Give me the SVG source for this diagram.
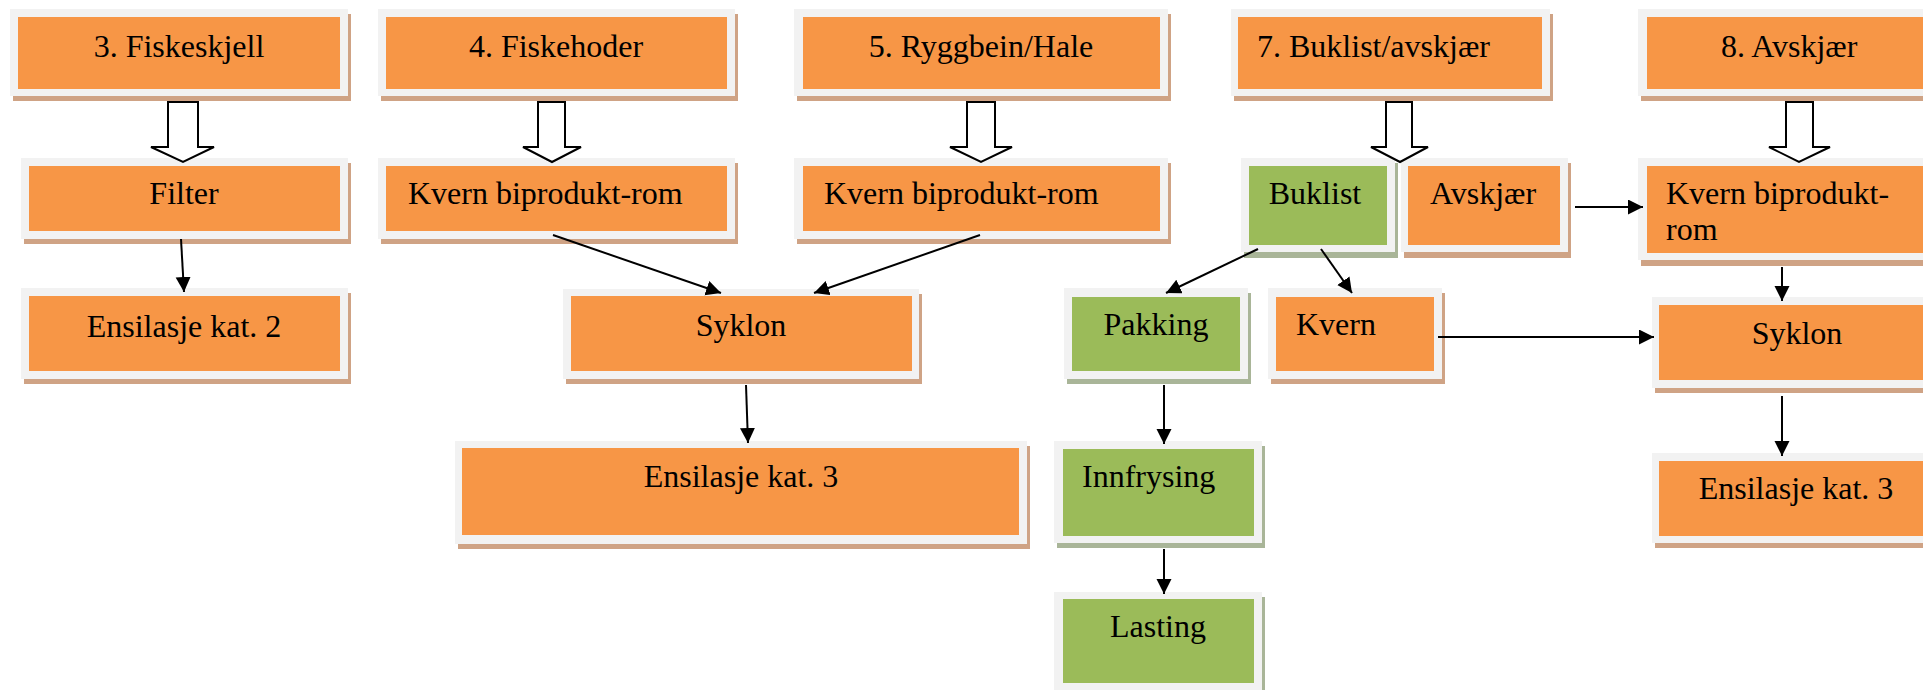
<svg xmlns="http://www.w3.org/2000/svg" width="1923" height="690" viewBox="0 0 1923 690">
<style>
.sho{fill:#CFA385}
.shg{fill:#A9B598}
.frame{fill:#F2F2F2}
.org{fill:#F79646}
.grn{fill:#9BBB59}
text{font-family:"Liberation Serif","Times New Roman",serif;font-size:32px;fill:#000}
.c{text-anchor:middle}
.ln{stroke:#000;stroke-width:2;fill:none;marker-end:url(#ah)}
.blk{fill:#fff;stroke:#000;stroke-width:2;stroke-linejoin:miter}
</style>
<defs>
<marker id="ah" markerUnits="userSpaceOnUse" markerWidth="16" markerHeight="16" refX="15" refY="7.5" orient="auto">
<path d="M0,0 L15,7.5 L0,15 Z" fill="#000"/>
</marker>
</defs>
<rect width="1923" height="690" fill="#fff"/>

<g id="n-fiskeskjell">
<rect class="sho" x="13" y="14" width="338" height="87"/>
<rect class="frame" x="10" y="9" width="338" height="87"/>
<rect class="org" x="18" y="17" width="322" height="72"/>
<text class="c" x="179" y="57">3. Fiskeskjell</text>
</g>
<g id="n-fiskehoder">
<rect class="sho" x="381" y="14" width="357" height="87"/>
<rect class="frame" x="378" y="9" width="357" height="87"/>
<rect class="org" x="386" y="17" width="341" height="72"/>
<text class="c" x="556" y="57">4. Fiskehoder</text>
</g>
<g id="n-ryggbein">
<rect class="sho" x="797" y="14" width="374" height="87"/>
<rect class="frame" x="794" y="9" width="374" height="87"/>
<rect class="org" x="803" y="17" width="357" height="72"/>
<text class="c" x="981" y="57">5. Ryggbein/Hale</text>
</g>
<g id="n-buklist-avskjaer">
<rect class="sho" x="1234" y="14" width="319" height="87"/>
<rect class="frame" x="1231" y="9" width="319" height="87"/>
<rect class="org" x="1238" y="17" width="304" height="72"/>
<text x="1257" y="57">7. Buklist/avskjær</text>
</g>
<g id="n-avskjaer8">
<rect class="sho" x="1641" y="14" width="307" height="87"/>
<rect class="frame" x="1638" y="9" width="307" height="87"/>
<rect class="org" x="1647" y="17" width="290" height="72"/>
<text x="1721" y="57">8. Avskjær</text>
</g>

<g id="n-filter">
<rect class="sho" x="24" y="163" width="327" height="81"/>
<rect class="frame" x="21" y="158" width="327" height="81"/>
<rect class="org" x="29" y="166" width="311" height="65"/>
<text class="c" x="184" y="204">Filter</text>
</g>
<g id="n-kvern1">
<rect class="sho" x="381" y="163" width="357" height="81"/>
<rect class="frame" x="378" y="158" width="357" height="81"/>
<rect class="org" x="386" y="166" width="341" height="65"/>
<text x="408" y="204">Kvern biprodukt-rom</text>
</g>
<g id="n-kvern2">
<rect class="sho" x="797" y="163" width="374" height="81"/>
<rect class="frame" x="794" y="158" width="374" height="81"/>
<rect class="org" x="803" y="166" width="357" height="65"/>
<text x="824" y="204">Kvern biprodukt-rom</text>
</g>
<g id="n-buklist">
<rect class="shg" x="1244" y="163" width="154" height="95"/>
<rect class="frame" x="1241" y="158" width="154" height="94"/>
<rect class="grn" x="1249" y="166" width="138" height="79"/>
<text class="c" x="1315" y="204">Buklist</text>
</g>
<g id="n-avskjaer">
<rect class="sho" x="1404" y="163" width="167" height="95"/>
<rect class="frame" x="1401" y="158" width="167" height="94"/>
<rect class="org" x="1408" y="166" width="152" height="79"/>
<text class="c" x="1483" y="204">Avskjær</text>
</g>
<g id="n-kvern3">
<rect class="sho" x="1641" y="163" width="307" height="103"/>
<rect class="frame" x="1638" y="158" width="307" height="102"/>
<rect class="org" x="1647" y="166" width="290" height="87"/>
<text x="1666" y="204">Kvern biprodukt-</text>
<text x="1666" y="240">rom</text>
</g>

<g id="n-ensilasje2">
<rect class="sho" x="24" y="293" width="327" height="91"/>
<rect class="frame" x="21" y="288" width="327" height="91"/>
<rect class="org" x="29" y="296" width="311" height="75"/>
<text class="c" x="184" y="337">Ensilasje kat. 2</text>
</g>
<g id="n-syklon1">
<rect class="sho" x="566" y="294" width="356" height="90"/>
<rect class="frame" x="563" y="289" width="356" height="90"/>
<rect class="org" x="571" y="296" width="341" height="75"/>
<text class="c" x="741" y="336">Syklon</text>
</g>
<g id="n-pakking">
<rect class="shg" x="1067" y="293" width="184" height="91"/>
<rect class="frame" x="1064" y="288" width="184" height="91"/>
<rect class="grn" x="1072" y="297" width="168" height="74"/>
<text class="c" x="1156" y="335">Pakking</text>
</g>
<g id="n-kvern">
<rect class="sho" x="1271" y="293" width="174" height="91"/>
<rect class="frame" x="1268" y="288" width="174" height="91"/>
<rect class="org" x="1276" y="297" width="158" height="74"/>
<text x="1296" y="335">Kvern</text>
</g>
<g id="n-syklon2">
<rect class="sho" x="1655" y="302" width="293" height="91"/>
<rect class="frame" x="1652" y="297" width="293" height="91"/>
<rect class="org" x="1659" y="305" width="278" height="75"/>
<text class="c" x="1797" y="344">Syklon</text>
</g>

<g id="n-ensilasje3a">
<rect class="sho" x="458" y="446" width="572" height="103"/>
<rect class="frame" x="455" y="441" width="572" height="103"/>
<rect class="org" x="462" y="448" width="557" height="87"/>
<text class="c" x="741" y="487">Ensilasje kat. 3</text>
</g>
<g id="n-innfrysing">
<rect class="shg" x="1057" y="446" width="208" height="102"/>
<rect class="frame" x="1054" y="441" width="208" height="102"/>
<rect class="grn" x="1063" y="449" width="191" height="87"/>
<text x="1082" y="487">Innfrysing</text>
</g>
<g id="n-ensilasje3b">
<rect class="sho" x="1655" y="458" width="293" height="90"/>
<rect class="frame" x="1652" y="453" width="293" height="90"/>
<rect class="org" x="1659" y="461" width="278" height="75"/>
<text class="c" x="1796" y="499">Ensilasje kat. 3</text>
</g>
<g id="n-lasting">
<rect class="shg" x="1057" y="597" width="208" height="100"/>
<rect class="frame" x="1054" y="592" width="208" height="100"/>
<rect class="grn" x="1063" y="599" width="191" height="84"/>
<text class="c" x="1158" y="637">Lasting</text>
</g>

<g id="connectors">
<path class="blk" d="M168,102 H198 V147 H214 L183,162 L151,147 H168 Z"/>
<path class="blk" d="M538,102 H565 V147 H581 L552,162 L523,147 H538 Z"/>
<path class="blk" d="M967,102 H995 V147 H1012 L981,162 L950,147 H967 Z"/>
<path class="blk" d="M1386,102 H1412 V147 H1428 L1400,162 L1371,147 H1386 Z"/>
<path class="blk" d="M1786,102 H1813 V147 H1830 L1799,162 L1769,147 H1786 Z"/>
<line class="ln" x1="181" y1="239" x2="184" y2="292"/>
<line class="ln" x1="553" y1="235" x2="721" y2="293"/>
<line class="ln" x1="980" y1="235" x2="814" y2="293"/>
<line class="ln" x1="746" y1="385" x2="748" y2="443"/>
<line class="ln" x1="1258" y1="249" x2="1166" y2="293"/>
<line class="ln" x1="1321" y1="249" x2="1352" y2="293"/>
<line class="ln" x1="1575" y1="207" x2="1643" y2="207"/>
<line class="ln" x1="1782" y1="267" x2="1782" y2="301"/>
<line class="ln" x1="1438" y1="337" x2="1654" y2="337"/>
<line class="ln" x1="1782" y1="396" x2="1782" y2="456"/>
<line class="ln" x1="1164" y1="385" x2="1164" y2="444"/>
<line class="ln" x1="1164" y1="549" x2="1164" y2="594"/>
</g>
</svg>
